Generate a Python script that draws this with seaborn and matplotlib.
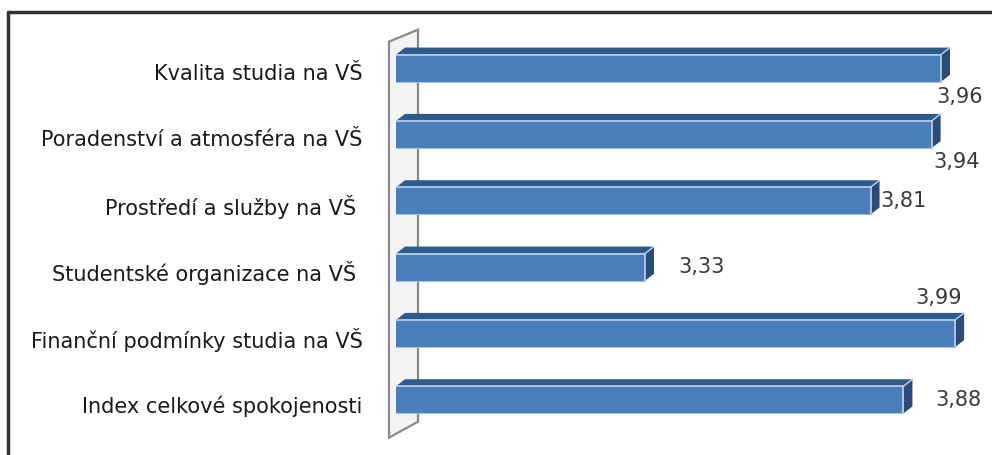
import matplotlib
matplotlib.use("Agg")
import numpy as np
import pandas as pd
import matplotlib.pyplot as plt
import matplotlib.transforms as mtransforms
import seaborn as sns
from matplotlib.patches import Polygon
from matplotlib.lines import Line2D

categories = ["Kvalita studia na VŠ",
              "Poradenství a atmosféra na VŠ",
              "Prostředí a služby na VŠ ",
              "Studentské organizace na VŠ ",
              "Finanční podmínky studia na VŠ",
              "Index celkové spokojenosti"]
values = [3.96, 3.94, 3.81, 3.33, 3.99, 3.88]
value_texts = ["{:.2f}".format(v).replace(".", ",") for v in values]

# where Excel put each value label: (px right of bar end, px down)
label_offsets = [(-5, 29), (2, 27), (10, 0), (33, 0), (-40, -36), (32, 0)]

x_min, x_max = 2.8, 4.06
front_col = "#4a7ebb"
top_col = "#2f5a8c"
side_col = "#2b4c78"
edge_light = "#bcd3ee"

sns.set_theme(style="white")
plt.rcParams["font.family"] = ["DejaVu Sans"]

df = pd.DataFrame({"kategorie": categories, "hodnota": values})

fig = plt.figure(figsize=(9.92, 4.55), dpi=100)
ax = fig.add_axes([396 / 992, 22 / 455, 592 / 992, 398 / 455])

sns.barplot(data=df, y="kategorie", x="hodnota", orient="h", color=front_col,
            saturation=1, width=0.41, linewidth=0, ax=ax, zorder=3)

ax.set_xlim(x_min, x_max)
ax.set_ylim(5.5, -0.5)

# depth of the fake 3d boxes, in data units
ddx = 9 / 469.7
ddy = -7 / 66.3

for p in ax.patches[:len(values)]:
    y0 = p.get_y()
    h = p.get_height()
    x1 = p.get_x() + p.get_width()
    top = Polygon([(x_min, y0), (x1, y0), (x1 + ddx, y0 + ddy), (x_min + ddx, y0 + ddy)],
                  closed=True, facecolor=top_col, edgecolor="none", zorder=3)
    side = Polygon([(x1, y0), (x1 + ddx, y0 + ddy), (x1 + ddx, y0 + h + ddy), (x1, y0 + h)],
                   closed=True, facecolor=side_col, edgecolor="none", zorder=3)
    ax.add_patch(top)
    ax.add_patch(side)
    ax.plot([x_min, x1, x1], [y0, y0, y0 + h], color=edge_light, lw=1.2, zorder=4)
    ax.plot([x1, x1 + ddx], [y0, y0 + ddy], color=edge_light, lw=1.0, zorder=4)
    ax.plot([x_min, x1], [y0 + h, y0 + h], color="#a8c0dc", lw=0.8, zorder=4)

# the grey back wall on the left
wall = Polygon([(x_min - 7 / 469.7, -0.40), (x_min + 22 / 469.7, -0.58),
                (x_min + 22 / 469.7, 5.33), (x_min - 7 / 469.7, 5.57)],
               closed=True, facecolor="#f3f3f3", edgecolor="#8a8a8a", lw=1.6,
               clip_on=False, zorder=1)
ax.add_patch(wall)

for i, (v, txt) in enumerate(zip(values, value_texts)):
    dx, dy = label_offsets[i]
    ax.annotate(txt, xy=(v, i), xytext=(dx * 0.72, -dy * 0.72), textcoords="offset points",
                ha="left", va="center", fontsize=15, color="#3a3a3a",
                annotation_clip=False, zorder=5)

ax.set_xlabel("")
ax.set_ylabel("")
ax.set_xticks([])
ax.tick_params(axis="y", length=0, pad=24, labelsize=15, labelcolor="#1a1a1a")
# category labels sit a little lower than the bar centres in the original
shift = mtransforms.ScaledTranslation(0, -4 / 100, fig.dpi_scale_trans)
for lab in ax.get_yticklabels():
    lab.set_transform(lab.get_transform() + shift)
for s in ax.spines.values():
    s.set_visible(False)

# outer frame (only top and left are visible in the original crop)
fig.add_artist(Line2D([8 / 992, 8 / 992], [0, 1 - 12 / 455], transform=fig.transFigure,
                      color="#333333", lw=2.5))
fig.add_artist(Line2D([8 / 992, 1], [1 - 12 / 455, 1 - 12 / 455], transform=fig.transFigure,
                      color="#333333", lw=2.5))

fig.savefig("out.png", dpi=100, facecolor="white")
